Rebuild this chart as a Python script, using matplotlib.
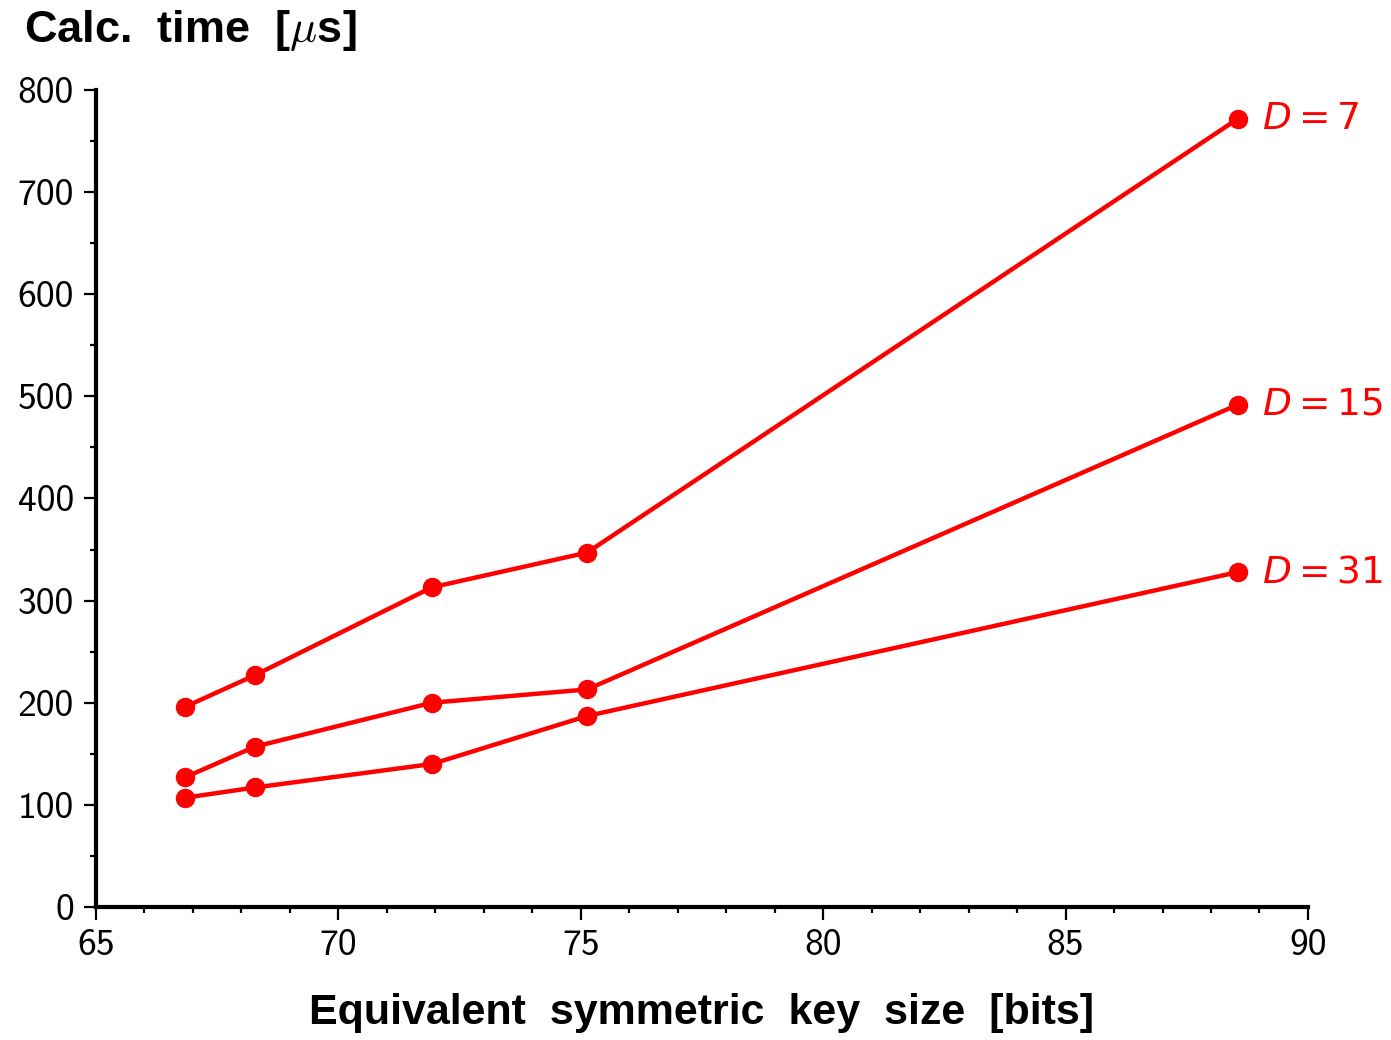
import matplotlib
matplotlib.use("Agg")
import matplotlib.pyplot as plt
from matplotlib.ticker import MultipleLocator

# Equivalent symmetric key size [bits]
key_bits = [66.84, 68.28, 71.93, 75.13, 88.56]

# Calculation time [us] for each value of D
series_labels = ["7", "15", "31"]
time_d7 = [196, 227, 313, 347, 772]
time_d15 = [127, 157, 200, 213, 492]
time_d31 = [107, 117, 140, 187, 328]
series_values = [time_d7, time_d15, time_d31]

x_ticks = [65, 70, 75, 80, 85, 90]
y_ticks = [0, 100, 200, 300, 400, 500, 600, 700, 800]

RED = "#ff0000"
BOLD_FONT = "Liberation Sans"

fig = plt.figure(figsize=(13.91, 10.40), dpi=100)
ax = fig.add_axes([0.069, 0.1279, 0.8713, 0.7856])

for lab, vals in zip(series_labels, series_values):
    ax.plot(key_bits, vals, color=RED, lw=3.2, marker="o", markersize=13,
            solid_capstyle="round", zorder=3, clip_on=False)
    ax.annotate(r"$D = " + lab + "$", xy=(key_bits[-1], vals[-1]),
                xytext=(17, 0), textcoords="offset points",
                va="center", ha="left", color=RED, fontsize=27,
                math_fontfamily="dejavusans")

ax.set_xlim(65, 90)
ax.set_ylim(0, 800)
ax.set_xticks(x_ticks)
ax.set_yticks(y_ticks)
ax.xaxis.set_minor_locator(MultipleLocator(1))
ax.yaxis.set_minor_locator(MultipleLocator(50))

for side in ("top", "right"):
    ax.spines[side].set_visible(False)
for side in ("left", "bottom"):
    ax.spines[side].set_linewidth(3)

ax.tick_params(which="major", length=9, width=1.6, labelsize=27, pad=7,
               direction="out")
ax.tick_params(which="minor", length=4, width=1.6, direction="out")
for lbl in ax.get_xticklabels() + ax.get_yticklabels():
    lbl.set_family("cmss10")

ax.set_xlabel("Equivalent  symmetric  key  size  [bits]", fontsize=31,
              fontweight="bold", family=BOLD_FONT, labelpad=22)
fig.text(0.017, 0.992, r"Calc.  time  [$\mu$s]", fontsize=32.5,
         fontweight="bold", family=BOLD_FONT, math_fontfamily="cm",
         ha="left", va="top")

fig.savefig("out.png", dpi=100)
